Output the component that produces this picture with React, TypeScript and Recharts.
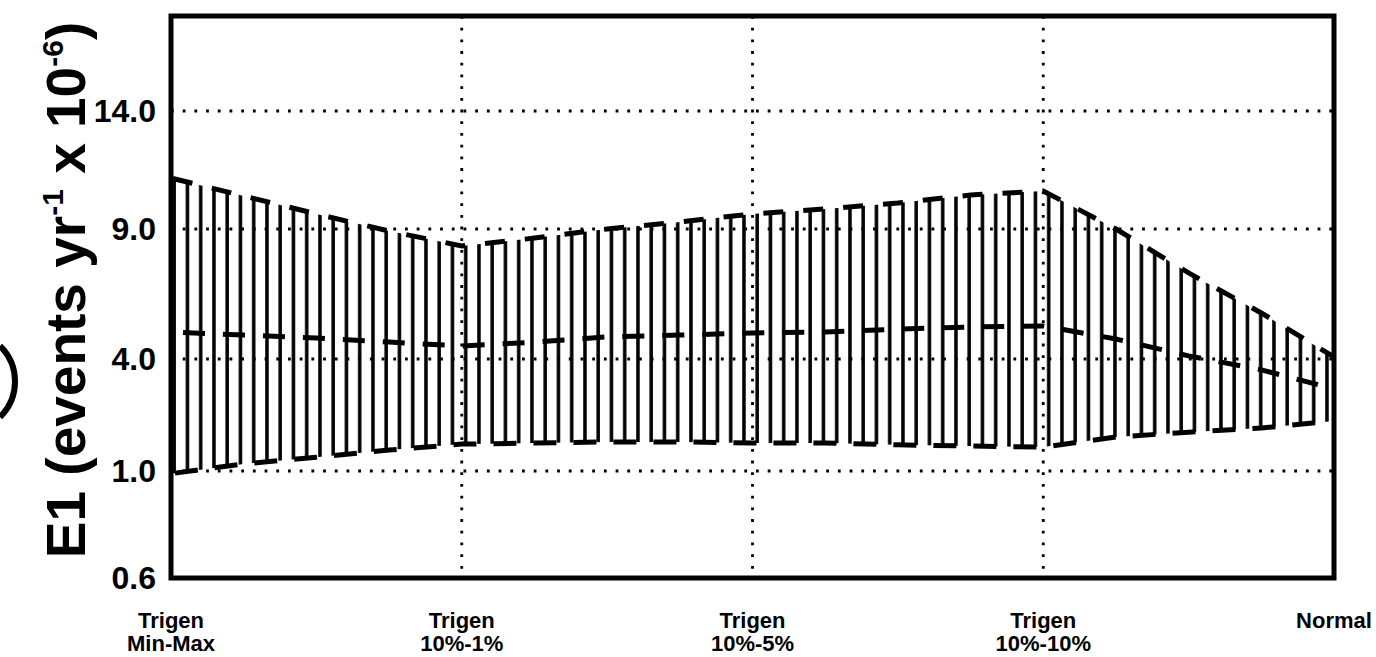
import React from 'react';
import {
  ComposedChart,
  Area,
  Line,
  XAxis,
  YAxis,
  CartesianGrid,
  ReferenceArea,
} from 'recharts';

// Scenario axis: 0 = Trigen Min-Max ... 4 = Normal
const SCENARIO_TICKS = [0, 1, 2, 3, 4];
const SCENARIO_LABELS: string[][] = [
  ['Trigen', 'Min-Max'],
  ['Trigen', '10%-1%'],
  ['Trigen', '10%-5%'],
  ['Trigen', '10%-10%'],
  ['Normal', ''],
];

// Sample positions along the scenario axis
const SAMPLE_X = [0, 0.25, 0.5, 0.75, 1, 1.25, 1.5, 1.75, 2, 2.25, 2.5, 2.75, 3, 3.25, 3.5, 3.75, 4];

// E1 (events per year x 1e-6)
const E1_MAX = [11.16, 10.4, 9.64, 8.92, 8.35, 8.65, 9.0, 9.3, 9.64, 9.85, 10.1, 10.44, 10.61, 9.0, 7.31, 5.77, 4.08];
const E1_MEDIAN = [5.04, 4.92, 4.81, 4.65, 4.5, 4.65, 4.85, 4.92, 5.0, 5.04, 5.15, 5.23, 5.27, 4.77, 4.12, 3.71, 3.2];
const E1_MIN = [0.99, 1.19, 1.37, 1.56, 1.72, 1.75, 1.78, 1.78, 1.75, 1.75, 1.7, 1.67, 1.64, 1.91, 2.04, 2.15, 2.34];

// The E1 axis is graduated unevenly: each labelled value sits at its own spot on the ruler
const Y_TICK_VALUES = [0.6, 1.0, 4.0, 9.0, 14.0];
const Y_TICK_SPOTS = [0, 1.07, 2.19, 3.49, 4.67];
const Y_TOP = 5.62;

const FONT = '"Liberation Sans", Arial, Helvetica, sans-serif';

const toRuler = (v: number) => {
  const t = Y_TICK_VALUES;
  const p = Y_TICK_SPOTS;
  let i = 0;
  while (i < t.length - 2 && v > t[i + 1]) i++;
  return p[i] + ((v - t[i]) * (p[i + 1] - p[i])) / (t[i + 1] - t[i]);
};

const rows = SAMPLE_X.map((x, i) => ({
  x,
  band: [toRuler(E1_MIN[i]), toRuler(E1_MAX[i])],
  hi: toRuler(E1_MAX[i]),
  med: toRuler(E1_MEDIAN[i]),
  lo: toRuler(E1_MIN[i]),
}));

const yTickLabel = (v: number) => {
  const k = Y_TICK_SPOTS.indexOf(v);
  return k >= 0 ? Y_TICK_VALUES[k].toFixed(1) : '';
};

const ScenarioTick = (props: any) => {
  const { x, y, payload } = props;
  const lines = SCENARIO_LABELS[Math.round(payload.value)] || ['', ''];
  return (
    <text
      x={x}
      y={y}
      textAnchor="middle"
      fontFamily={FONT}
      fontWeight={700}
      fontSize={22}
      fill="#000"
    >
      <tspan x={x} dy={50}>
        {lines[0]}
      </tspan>
      <tspan x={x} dy={23}>
        {lines[1]}
      </tspan>
    </text>
  );
};

export default function App() {
  return (
    <div style={{ position: 'absolute', left: 0, top: 0, background: '#fff' }}>
      <ComposedChart
        width={1376}
        height={657}
        data={rows}
        margin={{ top: 16, right: 42, bottom: 0, left: 0 }}
      >
        <defs>
          <pattern id="vhatch" patternUnits="userSpaceOnUse" x={0} y={0} width={13.25} height={20}>
            <rect x={0.2} y={0} width={3.5} height={20} fill="#000" />
          </pattern>
        </defs>
        <CartesianGrid
          stroke="#000"
          strokeWidth={2.8}
          strokeDasharray="2.8 8.9"
        />
        <XAxis
          dataKey="x"
          type="number"
          domain={[0, 4]}
          ticks={SCENARIO_TICKS}
          interval={0}
          allowDataOverflow
          axisLine={false}
          tickLine={false}
          tickSize={0}
          tickMargin={0}
          height={79}
          tick={<ScenarioTick />}
        />
        <YAxis
          type="number"
          domain={[0, Y_TOP]}
          ticks={Y_TICK_SPOTS}
          interval={0}
          allowDataOverflow
          axisLine={false}
          tickLine={false}
          tickSize={0}
          tickMargin={15}
          width={171}
          tickFormatter={yTickLabel}
          tick={{ fill: '#000', fontSize: 32, fontWeight: 700, fontFamily: FONT }}
        />
        <Area
          type="linear"
          dataKey="band"
          stroke="none"
          fill="url(#vhatch)"
          fillOpacity={1}
          isAnimationActive={false}
          activeDot={false}
          dot={false}
        />
        <Line
          type="linear"
          dataKey="hi"
          stroke="#000"
          strokeWidth={5}
          strokeDasharray="20 20"
          strokeDashoffset={38}
          dot={false}
          activeDot={false}
          isAnimationActive={false}
        />
        <Line
          type="linear"
          dataKey="lo"
          stroke="#000"
          strokeWidth={5}
          strokeDasharray="23 17"
          strokeDashoffset={36}
          dot={false}
          activeDot={false}
          isAnimationActive={false}
        />
        <Line
          type="linear"
          dataKey="med"
          stroke="#000"
          strokeWidth={5}
          strokeDasharray="22 18"
          strokeDashoffset={28}
          dot={false}
          activeDot={false}
          isAnimationActive={false}
        />
        <ReferenceArea
          x1={0}
          x2={4}
          y1={0}
          y2={Y_TOP}
          fill="none"
          fillOpacity={0}
          stroke="#000"
          strokeWidth={5}
          ifOverflow="visible"
        />
        <path d="M 0 346 A 49.5 49.5 0 0 1 0 417" fill="none" stroke="#000" strokeWidth={6} />
        <text
          x={85}
          y={290}
          transform="rotate(-90 85 290)"
          textAnchor="middle"
          fontFamily={FONT}
          fontWeight={700}
          fontSize={55}
          fill="#000"
        >
          E1 (events yr
          <tspan dy={-22} fontSize={30}>
            -1
          </tspan>
          <tspan dy={22}> x 10</tspan>
          <tspan dy={-22} fontSize={30}>
            -6
          </tspan>
          <tspan dy={22}>)</tspan>
        </text>
      </ComposedChart>
    </div>
  );
}
